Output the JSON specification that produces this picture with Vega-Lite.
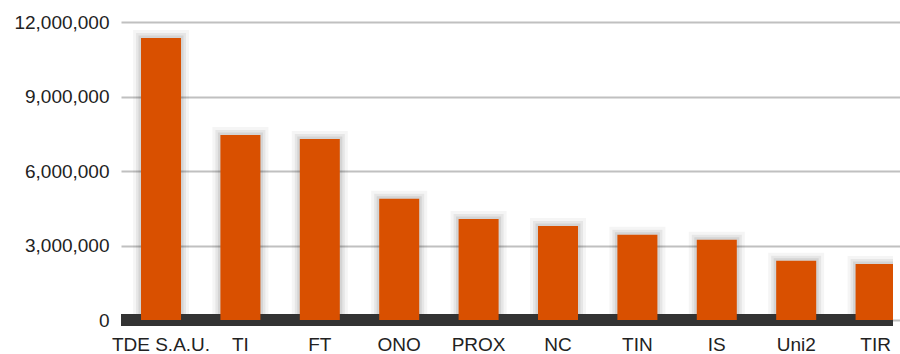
{
  "$schema": "https://vega.github.io/schema/vega-lite/v6.json",
  "width": 772,
  "height": 298,
  "autosize": {"type": "none"},
  "padding": {"left": 121, "top": 22, "right": 7, "bottom": 34},
  "background": "#ffffff",
  "config": {
    "view": {"stroke": null},
    "font": "Liberation Sans",
    "axis": {"labelFont": "Liberation Sans", "labelFontSize": 19, "labelColor": "#222222", "title": null, "domain": false, "ticks": false}
  },
  "data": {
    "values": [
      {"carrier": "TDE S.A.U.", "value": 11360000, "zero": 0},
      {"carrier": "TI", "value": 7450000, "zero": 0},
      {"carrier": "FT", "value": 7290000, "zero": 0},
      {"carrier": "ONO", "value": 4880000, "zero": 0},
      {"carrier": "PROX", "value": 4070000, "zero": 0},
      {"carrier": "NC", "value": 3790000, "zero": 0},
      {"carrier": "TIN", "value": 3430000, "zero": 0},
      {"carrier": "IS", "value": 3230000, "zero": 0},
      {"carrier": "Uni2", "value": 2390000, "zero": 0},
      {"carrier": "TIR", "value": 2260000, "zero": 0}
    ]
  },
  "encoding": {
    "x": {
      "field": "carrier", "type": "nominal", "sort": null,
      "scale": {"range": [0, 794.6], "paddingInner": 0.496, "paddingOuter": 0.252},
      "axis": {"labelAngle": 0, "labelPadding": 15, "grid": false, "labelBaseline": "top"}
    },
    "y": {
      "field": "value", "type": "quantitative",
      "scale": {"domain": [0, 12000000], "nice": false},
      "axis": {"values": [0, 3000000, 6000000, 9000000, 12000000], "format": ",.0f", "grid": true, "gridColor": "#c0c0c0", "gridWidth": 2, "labelPadding": 12}
    }
  },
  "layer": [
    {"mark": {"type": "bar", "clip": true, "fill": "#000", "fillOpacity": 0, "stroke": "#000", "strokeOpacity": 0.04, "strokeWidth": 16}},
    {"mark": {"type": "bar", "clip": true, "fill": "#000", "fillOpacity": 0, "stroke": "#000", "strokeOpacity": 0.06, "strokeWidth": 10}},
    {"mark": {"type": "bar", "clip": true, "fill": "#000", "fillOpacity": 0, "stroke": "#000", "strokeOpacity": 0.08, "strokeWidth": 5}},
    {
      "mark": {"type": "rule", "color": "#333333", "strokeWidth": 11},
      "encoding": {
        "y": {"field": "zero", "type": "quantitative",
          "scale": {"domain": [0, 12000000], "nice": false},
          "axis": {"values": [0, 3000000, 6000000, 9000000, 12000000], "format": ",.0f", "grid": true, "gridColor": "#c0c0c0", "gridWidth": 2, "labelPadding": 12}},
        "x": null
      }
    },
    {"mark": {"type": "bar", "clip": true, "color": "#D95000"}}
  ]
}
